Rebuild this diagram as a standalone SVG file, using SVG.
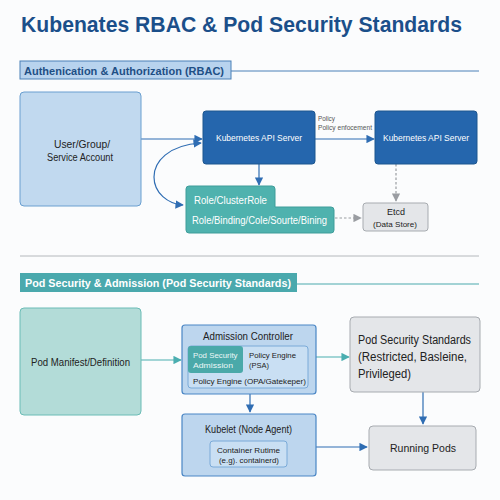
<svg xmlns="http://www.w3.org/2000/svg" width="500" height="500" viewBox="0 0 500 500">
<defs>
<marker id="ab" viewBox="0 0 10 10" refX="9" refY="5" markerWidth="7" markerHeight="7" orient="auto-start-reverse"><path d="M0,0 L10,5 L0,10 z" fill="#2f6db3"/></marker>
<marker id="at" viewBox="0 0 10 10" refX="9" refY="5" markerWidth="7" markerHeight="7" orient="auto"><path d="M0,0 L10,5 L0,10 z" fill="#4aaeb0"/></marker>
<marker id="ag" viewBox="0 0 10 10" refX="9" refY="5" markerWidth="7" markerHeight="7" orient="auto"><path d="M0,0 L10,5 L0,10 z" fill="#9a9da2"/></marker>
</defs>
<style>
text{font-family:"Liberation Sans",Arial,sans-serif}
.b{stroke:#2f6db3;stroke-width:1.2;fill:none;marker-end:url(#ab)}
.t{stroke:#4aaeb0;stroke-width:1.2;fill:none;marker-end:url(#at)}
.g{stroke:#9a9da2;stroke-width:1.2;fill:none;stroke-dasharray:2.5 2;marker-end:url(#ag)}
.api{fill:#2566ad;stroke:#1d568f;stroke-width:1}
.gray{fill:#e4e6e9;stroke:#a7abb0;stroke-width:1}
.lb{fill:#bdd6ee;stroke:#4a86c5;stroke-width:1.2}
</style>
<rect width="500" height="500" fill="#fbfcfd"/>
<text x="21" y="32" font-size="22" font-weight="bold" fill="#1b4f8a" textLength="441" lengthAdjust="spacingAndGlyphs">Kubenates RBAC &amp; Pod Security Standards</text>

<g id="sec1">
<rect x="20" y="61" width="211" height="18" fill="#b8d3ee" stroke="#4a80b8" stroke-width="1"/>
<text x="24" y="74.5" font-size="11" font-weight="bold" fill="#1e4f85" textLength="200" lengthAdjust="spacingAndGlyphs">Authenication &amp; Authorization (RBAC)</text>
<line x1="231" y1="71" x2="479" y2="71" stroke="#4a80b8" stroke-width="1"/>
</g>

<g id="connectors">
<line class="b" x1="141" y1="139" x2="202" y2="139"/>
<path class="b" d="M201,143 C168,145 154,162 154,177 C154,193 168,204 183,205" marker-start="url(#ab)"/>
<line class="b" x1="315" y1="139" x2="374" y2="139"/>
<line class="b" x1="259" y1="164" x2="259" y2="185"/>
<line class="g" x1="396" y1="164" x2="396" y2="201"/>
<line class="g" x1="335" y1="218" x2="361" y2="218"/>
<line class="t" x1="141" y1="360" x2="181" y2="360"/>
<line class="t" x1="316" y1="357" x2="349" y2="357"/>
<line class="b" x1="250" y1="394" x2="250" y2="412"/>
<line class="b" x1="423" y1="392" x2="423" y2="424"/>
<line class="b" x1="316" y1="447" x2="367" y2="447"/>
</g>
<text x="318" y="121" font-size="6.5" fill="#555" textLength="17" lengthAdjust="spacingAndGlyphs">Policy</text>
<text x="318" y="130" font-size="6.5" fill="#555" textLength="54" lengthAdjust="spacingAndGlyphs">Policy enfocement</text>

<g id="user">
<rect x="20" y="92" width="121" height="114" rx="4" fill="#c1d9ef" stroke="#6a9fd0" stroke-width="1"/>
<text x="54" y="148" font-size="10" fill="#222" textLength="56" lengthAdjust="spacingAndGlyphs">User/Group/</text>
<text x="47" y="161" font-size="10" fill="#222" textLength="66" lengthAdjust="spacingAndGlyphs">Service Account</text>
</g>
<g id="api1">
<rect class="api" x="203" y="111" width="112" height="53" rx="3"/>
<text x="216" y="141" font-size="9" fill="#fff" textLength="86" lengthAdjust="spacingAndGlyphs">Kubernetes API Server</text>
</g>
<g id="api2">
<rect class="api" x="375" y="111" width="102" height="53" rx="3"/>
<text x="383" y="141" font-size="9" fill="#fff" textLength="86" lengthAdjust="spacingAndGlyphs">Kubernetes API Server</text>
</g>
<g id="role">
<path d="M189,186 H272 Q275,186 275,189 V207 H331 Q334,207 334,210 V230 Q334,233 331,233 H189 Q186,233 186,230 V189 Q186,186 189,186 Z" fill="#4fb2ae" stroke="#3f9d9a" stroke-width="1"/>
<text x="194" y="204" font-size="10" fill="#fff" textLength="73" lengthAdjust="spacingAndGlyphs">Role/ClusterRole</text>
<text x="192" y="224" font-size="10" fill="#fff" textLength="135" lengthAdjust="spacingAndGlyphs">Role/Binding/Cole/Sourte/Bining</text>
</g>
<g id="etcd">
<rect class="gray" x="363" y="203" width="65" height="28" rx="3"/>
<text x="387" y="215" font-size="9" fill="#222" textLength="18" lengthAdjust="spacingAndGlyphs">Etcd</text>
<text x="373" y="226.5" font-size="8" fill="#222" textLength="44" lengthAdjust="spacingAndGlyphs">(Data Store)</text>
</g>

<line x1="20" y1="256" x2="479" y2="256" stroke="#b4b8bc" stroke-width="1"/>

<g id="sec2">
<rect x="20" y="273" width="277" height="19" fill="#4aa9ad"/>
<text x="25" y="286.5" font-size="11" font-weight="bold" fill="#fff" textLength="266" lengthAdjust="spacingAndGlyphs">Pod Security &amp; Admission (Pod Security Standards)</text>
<line x1="297" y1="284" x2="479" y2="284" stroke="#4aa9ad" stroke-width="1"/>
</g>

<g id="manifest">
<rect x="20" y="308" width="121" height="107" rx="4" fill="#b3dcd8" stroke="#6bbcb6" stroke-width="1"/>
<text x="31" y="366" font-size="10" fill="#222" textLength="99" lengthAdjust="spacingAndGlyphs">Pod Manifest/Definition</text>
</g>
<g id="admission">
<rect class="lb" x="182" y="325" width="134" height="69" rx="3"/>
<text x="203" y="340" font-size="10" fill="#222" textLength="90" lengthAdjust="spacingAndGlyphs">Admission Controller</text>
<rect x="188" y="346" width="120" height="42" rx="3" fill="#c9dff3" stroke="#7aaad8" stroke-width="1"/>
<rect x="188" y="346" width="55" height="27" rx="3" fill="#4aa9a9"/>
<text x="193" y="357.5" font-size="7.5" fill="#eaf7f7" textLength="44.5" lengthAdjust="spacingAndGlyphs">Pod Security</text>
<text x="193" y="367.5" font-size="7.5" fill="#eaf7f7" textLength="40" lengthAdjust="spacingAndGlyphs">Admission</text>
<text x="249" y="357.5" font-size="7.5" fill="#222" textLength="47" lengthAdjust="spacingAndGlyphs">Policy Engine</text>
<text x="249" y="367.5" font-size="7.5" fill="#222" textLength="20" lengthAdjust="spacingAndGlyphs">(PSA)</text>
<text x="193" y="383.5" font-size="7.5" fill="#222" textLength="113" lengthAdjust="spacingAndGlyphs">Policy Engine (OPA/Gatekeper)</text>
</g>
<g id="pss">
<rect class="gray" x="350" y="317" width="130" height="75" rx="4"/>
<text x="358" y="344" font-size="12" fill="#222" textLength="113" lengthAdjust="spacingAndGlyphs">Pod Security Standards</text>
<text x="358" y="361" font-size="12" fill="#222" textLength="109" lengthAdjust="spacingAndGlyphs">(Restricted, Basleine,</text>
<text x="358" y="378" font-size="12" fill="#222" textLength="53" lengthAdjust="spacingAndGlyphs">Privileged)</text>
</g>
<g id="kubelet">
<rect class="lb" x="182" y="414" width="134" height="62" rx="3"/>
<text x="205" y="433" font-size="10" fill="#222" textLength="87" lengthAdjust="spacingAndGlyphs">Kubelet (Node Agent)</text>
<rect x="210" y="441" width="77" height="26" rx="3" fill="#c9dff3" stroke="#7aaad8" stroke-width="1"/>
<text x="217" y="452.5" font-size="7.5" fill="#222" textLength="63" lengthAdjust="spacingAndGlyphs">Container Rutime</text>
<text x="219" y="463" font-size="7.5" fill="#222" textLength="60" lengthAdjust="spacingAndGlyphs">(e.g). containerd)</text>
</g>
<g id="running">
<rect class="gray" x="369" y="426" width="107" height="44" rx="4"/>
<text x="390" y="452" font-size="11.5" fill="#222" textLength="66" lengthAdjust="spacingAndGlyphs">Running Pods</text>
</g>
</svg>
